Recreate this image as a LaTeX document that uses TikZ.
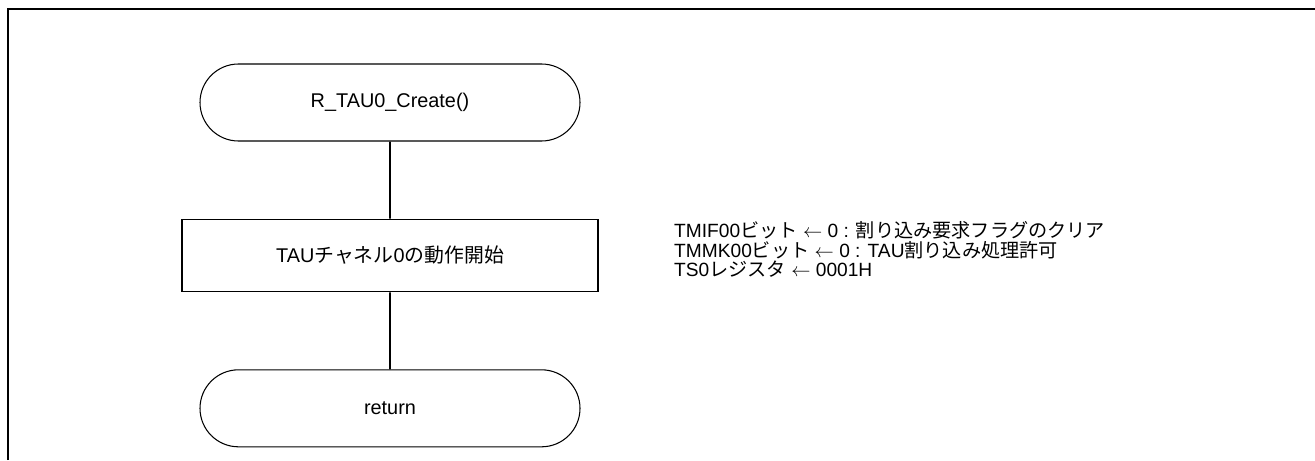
\documentclass[tikz,border=0pt]{standalone}
\usepackage{fontspec}
\setmainfont{Liberation Sans}
\newfontfamily\jp{Noto Sans CJK JP}
\usetikzlibrary{positioning,shapes.misc}
\tikzset{
  terminal/.style={draw,line width=0.6pt,rounded rectangle,
    minimum width=7.6cm,minimum height=1.54cm,inner sep=0pt,
    font=\fontsize{11.3pt}{12pt}\selectfont},
  procbox/.style={draw,line width=1pt,rectangle,
    minimum width=8.32cm,minimum height=1.44cm,
    font=\fontsize{11.3pt}{12pt}\selectfont},
  flowline/.style={line width=1pt},
  frameline/.style={line width=1.1pt},
}

\begin{document}
\begin{tikzpicture}[font=\fontsize{10.9pt}{10.9pt}\selectfont,
      node distance=1.54cm]
   \useasboundingbox (0,0) rectangle (26.3,9.2);
   % page frame
   \coordinate (fr0) at (0.16,0);
   \coordinate (fr1) at (0.16,9.02);
   \coordinate (fr2) at (26.3,9.02);
   \draw[frameline] (fr0) -- (fr1) -- (fr2);

   \node[terminal] (start) at (7.8,7.15) {R\_TAU0\_Create()};
   \node[procbox, below=of start] (tau0) {TAU{\jp チャネル}0{\jp の動作開始}};
   \node[terminal, below=of tau0] (ret) {return};

   \node[right=1.5cm of tau0, yshift=0.12cm, align=left, inner sep=0pt] (note)
      {TMIF00{\jp ビット} $\leftarrow$ 0 : {\jp 割り込み要求フラグのクリア}\\
       TMMK00{\jp ビット} $\leftarrow$ 0 : TAU{\jp 割り込み処理許可}\\
       TS0{\jp レジスタ} $\leftarrow$ 0001H};

   \draw[flowline] (start) -- (tau0);
   \draw[flowline] (tau0) -- (ret);
\end{tikzpicture}
\end{document}
